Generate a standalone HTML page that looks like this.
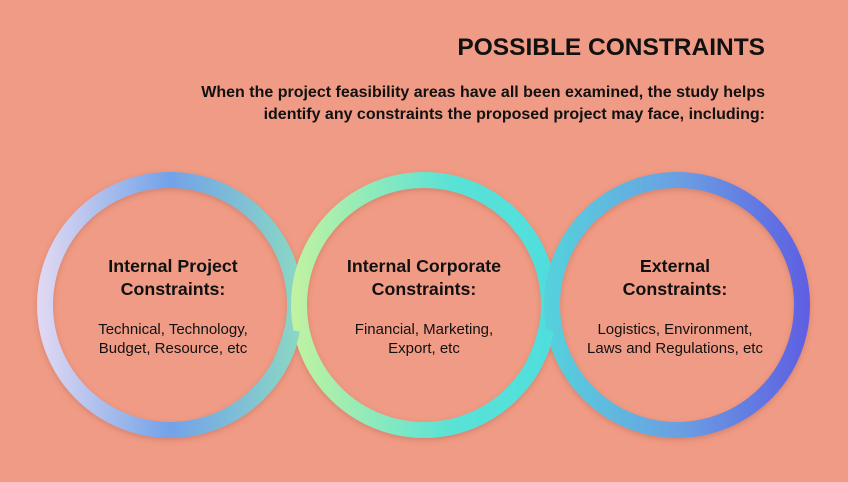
<!DOCTYPE html>
<html><head><meta charset="utf-8"><style>
body{margin:0;width:848px;height:482px;overflow:hidden;background:#f09b85;font-family:"Liberation Sans",Arial,sans-serif;}
svg{display:block}
</style></head><body>
<svg width="848" height="482" viewBox="0 0 848 482">
<defs>
<linearGradient id="g1" gradientUnits="userSpaceOnUse" x1="40" y1="0" x2="300" y2="0">
<stop offset="0" stop-color="#e0d8f2"/><stop offset="0.5" stop-color="#72a2e8"/><stop offset="1" stop-color="#8ad8c4"/></linearGradient>
<linearGradient id="g2" gradientUnits="userSpaceOnUse" x1="292" y1="0" x2="556" y2="0">
<stop offset="0" stop-color="#c2f2a0"/><stop offset="0.6" stop-color="#5ae2d6"/><stop offset="1" stop-color="#4fdede"/></linearGradient>
<linearGradient id="g3" gradientUnits="userSpaceOnUse" x1="545" y1="0" x2="810" y2="0">
<stop offset="0" stop-color="#55d2dc"/><stop offset="0.5" stop-color="#6aa0e2"/><stop offset="1" stop-color="#5e5ee2"/></linearGradient>
<filter id="sh" x="-20%" y="-20%" width="140%" height="140%"><feDropShadow dx="0" dy="2" stdDeviation="3" flood-color="#a0503c" flood-opacity="0.35"/></filter>
</defs>
<text x="765" y="55" text-anchor="end" font-size="24.5" font-weight="bold" fill="#111">POSSIBLE CONSTRAINTS</text>
<text x="765" y="97" text-anchor="end" font-size="16" font-weight="bold" fill="#111">When the project feasibility areas have all been examined, the study helps</text>
<text x="765" y="119" text-anchor="end" font-size="16" font-weight="bold" fill="#111">identify any constraints the proposed project may face, including:</text>
<g filter="url(#sh)">
<circle cx="170" cy="305" r="125" fill="none" stroke="url(#g1)" stroke-width="16"/>
<circle cx="424" cy="305" r="125" fill="none" stroke="url(#g2)" stroke-width="16"/>
<circle cx="677" cy="305" r="125" fill="none" stroke="url(#g3)" stroke-width="16"/>
</g>
<path d="M 292.0 330.0 A 125 125 0 0 1 280.5 362.5" fill="none" stroke="url(#g1)" stroke-width="16"/>
<path d="M 546.0 330.0 A 125 125 0 0 1 534.5 362.5" fill="none" stroke="url(#g2)" stroke-width="16"/>
<g fill="#111" text-anchor="middle">
<text x="173" y="272" font-size="17.8" font-weight="bold">Internal Project</text>
<text x="173" y="295" font-size="17.8" font-weight="bold">Constraints:</text>
<text x="173" y="334" font-size="15">Technical, Technology,</text>
<text x="173" y="353" font-size="15">Budget, Resource, etc</text>
<text x="424" y="272" font-size="17.8" font-weight="bold">Internal Corporate</text>
<text x="424" y="295" font-size="17.8" font-weight="bold">Constraints:</text>
<text x="424" y="334" font-size="15">Financial, Marketing,</text>
<text x="424" y="353" font-size="15">Export, etc</text>
<text x="675" y="272" font-size="17.8" font-weight="bold">External</text>
<text x="675" y="295" font-size="17.8" font-weight="bold">Constraints:</text>
<text x="675" y="334" font-size="15">Logistics, Environment,</text>
<text x="675" y="353" font-size="15">Laws and Regulations, etc</text>
</g>
</svg>
</body></html>
